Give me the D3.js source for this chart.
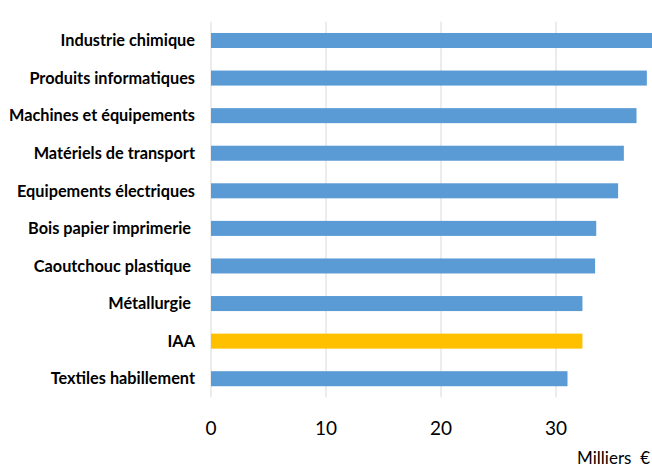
<!DOCTYPE html>
<html>
<head>
<meta charset="utf-8">
<script src="https://cdn.jsdelivr.net/npm/d3@7"></script>
<style>
	body { margin: 0; background: #ffffff; }
	svg { display: block; }
	.cat-label { font-family: Lato, "Open Sans", sans-serif; font-weight: bold; font-size: 16.3px; fill: #000000; white-space: pre; }
	.tick-label { font-family: Lato, "Open Sans", sans-serif; font-size: 19px; fill: #000000; }
	.unit-label { font-family: Lato, "Open Sans", sans-serif; font-size: 17px; fill: #000000; white-space: pre; }
</style>
</head>
<body>
<svg id="chart"></svg>
<script>
// Data, top to bottom (some labels carry a trailing space, as in the source).
var categories = ["Industrie chimique", "Produits informatiques", "Machines et équipements", "Matériels de transport",
	"Equipements électriques", "Bois papier imprimerie ", "Caoutchouc plastique ", "Métallurgie ", "IAA", "Textiles habillement"];
var values = [38.6, 37.9, 37.0, 35.9, 35.4, 33.5, 33.4, 32.3, 32.3, 31.0];
var highlighted = ["IAA"];
var gridValues = [0, 10, 20, 30, 40];
var tickValues = [0, 10, 20, 30];
var unitText = "Milliers  €";

// Definitions.
var width = 652;
var height = 469;
var plotLeft = 211;
var plotTop = 21.7;
var plotBottom = 397.5;

var svg = d3.select("#chart")
	.attr("width", width)
	.attr("height", height);

var x = d3.scaleLinear()
	.domain([0, 40])
	.range([plotLeft, plotLeft + 460]);

var y = d3.scaleBand()
	.domain(categories)
	.range([plotTop, plotBottom])
	.paddingInner(0.6)
	.paddingOuter(0.3);

// Vertical grid lines.
svg.append("g")
	.selectAll("line")
	.data(gridValues)
	.enter()
	.append("line")
	.attr("x1", function(d) { return x(d); })
	.attr("x2", function(d) { return x(d); })
	.attr("y1", plotTop)
	.attr("y2", plotBottom)
	.attr("stroke", "#d9d9d9")
	.attr("stroke-width", 1);

// Bars.
svg.append("g")
	.selectAll("rect")
	.data(categories)
	.enter()
	.append("rect")
	.attr("x", x(0))
	.attr("y", function(d) { return y(d); })
	.attr("width", function(d, i) { return x(values[i]) - x(0); })
	.attr("height", y.bandwidth())
	.attr("fill", function(d) { return highlighted.indexOf(d) >= 0 ? "#ffc000" : "#5b9bd5"; });

// Category labels.
svg.append("g")
	.selectAll("text")
	.data(categories)
	.enter()
	.append("text")
	.classed("cat-label", true)
	.attr("x", 195)
	.attr("y", function(d) { return y(d) + y.bandwidth() / 2; })
	.attr("dy", "0.35em")
	.attr("text-anchor", "end")
	.text(function(d) { return d; });

// Tick labels.
svg.append("g")
	.selectAll("text")
	.data(tickValues)
	.enter()
	.append("text")
	.classed("tick-label", true)
	.attr("x", function(d) { return x(d); })
	.attr("y", 435)
	.attr("text-anchor", "middle")
	.text(function(d) { return d; });

// Unit label.
svg.append("text")
	.classed("unit-label", true)
	.attr("x", 650)
	.attr("y", 464)
	.attr("text-anchor", "end")
	.text(unitText);
</script>
</body>
</html>
